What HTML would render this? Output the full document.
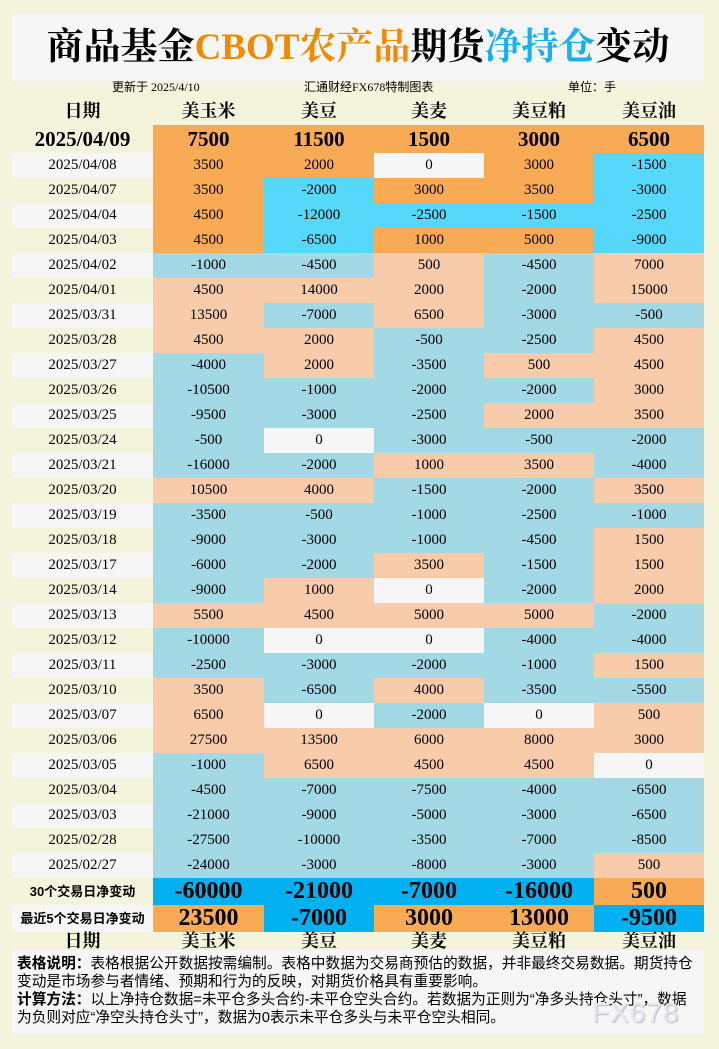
<!DOCTYPE html>
<html><head><meta charset="utf-8"><style>
*{margin:0;padding:0;box-sizing:border-box}
body{width:719px;height:1049px;background:#f4f4dc;position:relative;overflow:hidden;font-family:"Liberation Serif","Noto Serif CJK SC",serif;color:#000}
.title{position:absolute;left:12px;top:14px;width:692px;height:67px;background:#f6f6f6;text-align:center;font-size:37px;line-height:67px;letter-spacing:0px}
.title span{font-weight:bold}
.info{position:absolute;top:79px;font-size:12px;line-height:16px;font-family:"Liberation Serif","Noto Sans CJK SC",serif}
table{position:absolute;left:12px;top:98px;border-collapse:collapse;table-layout:fixed;width:692px}
td{padding:0;text-align:center;height:25px;font-size:15px;line-height:25px;white-space:nowrap}
td:first-child{font-size:15px}
tr.h td{height:27px;font-size:18px;font-weight:bold;background:none}
tr.t td{height:28px;font-size:21px;font-weight:bold}
tr.f td{height:27px;font-size:24px;font-weight:bold}
tr.f td:first-child{font-size:13px;font-family:"Liberation Sans","Noto Sans CJK SC",sans-serif}
tr.g td{height:18px;font-size:18px;line-height:18px;font-weight:bold;background:none}
.w{background:#f6f6f6}.o{background:#f9aa55}.c{background:#55d8fa}.s{background:#f8cbab}.b{background:#a3d8e5}.c2{background:#00b0f0}
tbody tr:nth-child(odd):not(.h):not(.g) td:first-child{background:#f6f6f6}
.notes{position:absolute;left:12px;top:950px;width:692px;height:84px;background:#f6f6f6;font-family:"Liberation Sans","Noto Sans CJK SC",sans-serif;font-size:14.7px;line-height:18px;padding:5px 4px 0 5px}
.wm{position:absolute;left:592px;top:997px;font-family:"Liberation Sans",sans-serif;font-size:28px;color:#e4e8ee;letter-spacing:1px;text-shadow:1px 1px 1px #b8c0c8}
</style></head><body>
<div class="title"><span>商品基金</span><span style="color:#f08a00">CBOT农产品</span><span>期货</span><span style="color:#1ab0f0">净持仓</span><span>变动</span></div>
<div class="info" style="left:112px">更新于 2025/4/10</div>
<div class="info" style="left:304px">汇通财经FX678特制图表</div>
<div class="info" style="left:568px">单位：手</div>
<table>
<colgroup><col style="width:141px"><col style="width:111px"><col style="width:110px"><col style="width:110px"><col style="width:110px"><col style="width:110px"></colgroup>
<tbody>
<tr class="h"><td>日期</td><td>美玉米</td><td>美豆</td><td>美麦</td><td>美豆粕</td><td>美豆油</td></tr>
<tr class="t"><td>2025/04/09</td><td class="o">7500</td><td class="o">11500</td><td class="o">1500</td><td class="o">3000</td><td class="o">6500</td></tr>
<tr><td>2025/04/08</td><td class="o">3500</td><td class="o">2000</td><td class="w">0</td><td class="o">3000</td><td class="c">-1500</td></tr>
<tr><td>2025/04/07</td><td class="o">3500</td><td class="c">-2000</td><td class="o">3000</td><td class="o">3500</td><td class="c">-3000</td></tr>
<tr><td>2025/04/04</td><td class="o">4500</td><td class="c">-12000</td><td class="c">-2500</td><td class="c">-1500</td><td class="c">-2500</td></tr>
<tr><td>2025/04/03</td><td class="o">4500</td><td class="c">-6500</td><td class="o">1000</td><td class="o">5000</td><td class="c">-9000</td></tr>
<tr><td>2025/04/02</td><td class="b">-1000</td><td class="b">-4500</td><td class="s">500</td><td class="b">-4500</td><td class="s">7000</td></tr>
<tr><td>2025/04/01</td><td class="s">4500</td><td class="s">14000</td><td class="s">2000</td><td class="b">-2000</td><td class="s">15000</td></tr>
<tr><td>2025/03/31</td><td class="s">13500</td><td class="b">-7000</td><td class="s">6500</td><td class="b">-3000</td><td class="b">-500</td></tr>
<tr><td>2025/03/28</td><td class="s">4500</td><td class="s">2000</td><td class="b">-500</td><td class="b">-2500</td><td class="s">4500</td></tr>
<tr><td>2025/03/27</td><td class="b">-4000</td><td class="s">2000</td><td class="b">-3500</td><td class="s">500</td><td class="s">4500</td></tr>
<tr><td>2025/03/26</td><td class="b">-10500</td><td class="b">-1000</td><td class="b">-2000</td><td class="b">-2000</td><td class="s">3000</td></tr>
<tr><td>2025/03/25</td><td class="b">-9500</td><td class="b">-3000</td><td class="b">-2500</td><td class="s">2000</td><td class="s">3500</td></tr>
<tr><td>2025/03/24</td><td class="b">-500</td><td class="w">0</td><td class="b">-3000</td><td class="b">-500</td><td class="b">-2000</td></tr>
<tr><td>2025/03/21</td><td class="b">-16000</td><td class="b">-2000</td><td class="s">1000</td><td class="s">3500</td><td class="b">-4000</td></tr>
<tr><td>2025/03/20</td><td class="s">10500</td><td class="s">4000</td><td class="b">-1500</td><td class="b">-2000</td><td class="s">3500</td></tr>
<tr><td>2025/03/19</td><td class="b">-3500</td><td class="b">-500</td><td class="b">-1000</td><td class="b">-2500</td><td class="b">-1000</td></tr>
<tr><td>2025/03/18</td><td class="b">-9000</td><td class="b">-3000</td><td class="b">-1000</td><td class="b">-4500</td><td class="s">1500</td></tr>
<tr><td>2025/03/17</td><td class="b">-6000</td><td class="b">-2000</td><td class="s">3500</td><td class="b">-1500</td><td class="s">1500</td></tr>
<tr><td>2025/03/14</td><td class="b">-9000</td><td class="s">1000</td><td class="w">0</td><td class="b">-2000</td><td class="s">2000</td></tr>
<tr><td>2025/03/13</td><td class="s">5500</td><td class="s">4500</td><td class="s">5000</td><td class="s">5000</td><td class="b">-2000</td></tr>
<tr><td>2025/03/12</td><td class="b">-10000</td><td class="w">0</td><td class="w">0</td><td class="b">-4000</td><td class="b">-4000</td></tr>
<tr><td>2025/03/11</td><td class="b">-2500</td><td class="b">-3000</td><td class="b">-2000</td><td class="b">-1000</td><td class="s">1500</td></tr>
<tr><td>2025/03/10</td><td class="s">3500</td><td class="b">-6500</td><td class="s">4000</td><td class="b">-3500</td><td class="b">-5500</td></tr>
<tr><td>2025/03/07</td><td class="s">6500</td><td class="w">0</td><td class="b">-2000</td><td class="w">0</td><td class="s">500</td></tr>
<tr><td>2025/03/06</td><td class="s">27500</td><td class="s">13500</td><td class="s">6000</td><td class="s">8000</td><td class="s">3000</td></tr>
<tr><td>2025/03/05</td><td class="b">-1000</td><td class="s">6500</td><td class="s">4500</td><td class="s">4500</td><td class="w">0</td></tr>
<tr><td>2025/03/04</td><td class="b">-4500</td><td class="b">-7000</td><td class="b">-7500</td><td class="b">-4000</td><td class="b">-6500</td></tr>
<tr><td>2025/03/03</td><td class="b">-21000</td><td class="b">-9000</td><td class="b">-5000</td><td class="b">-3000</td><td class="b">-6500</td></tr>
<tr><td>2025/02/28</td><td class="b">-27500</td><td class="b">-10000</td><td class="b">-3500</td><td class="b">-7000</td><td class="b">-8500</td></tr>
<tr><td>2025/02/27</td><td class="b">-24000</td><td class="b">-3000</td><td class="b">-8000</td><td class="b">-3000</td><td class="s">500</td></tr>
<tr class="f"><td style="background:none">30个交易日净变动</td><td class="c2">-60000</td><td class="c2">-21000</td><td class="c2">-7000</td><td class="c2">-16000</td><td class="o">500</td></tr>
<tr class="f"><td style="background:#f6f6f6">最近5个交易日净变动</td><td class="o">23500</td><td class="c2">-7000</td><td class="o">3000</td><td class="o">13000</td><td class="c2">-9500</td></tr>
<tr class="g"><td>日期</td><td>美玉米</td><td>美豆</td><td>美麦</td><td>美豆粕</td><td>美豆油</td></tr>
</tbody></table>
<div class="notes"><b>表格说明：</b>表格根据公开数据按需编制。表格中数据为交易商预估的数据，并非最终交易数据。期货持仓变动是市场参与者情绪、预期和行为的反映，对期货价格具有重要影响。<br><b>计算方法：</b>以上净持仓数据=未平仓多头合约-未平仓空头合约。若数据为正则为“净多头持仓头寸”，数据为负则对应“净空头持仓头寸”，数据为0表示未平仓多头与未平仓空头相同。</div>
<div class="wm">FX678</div>
</body></html>
